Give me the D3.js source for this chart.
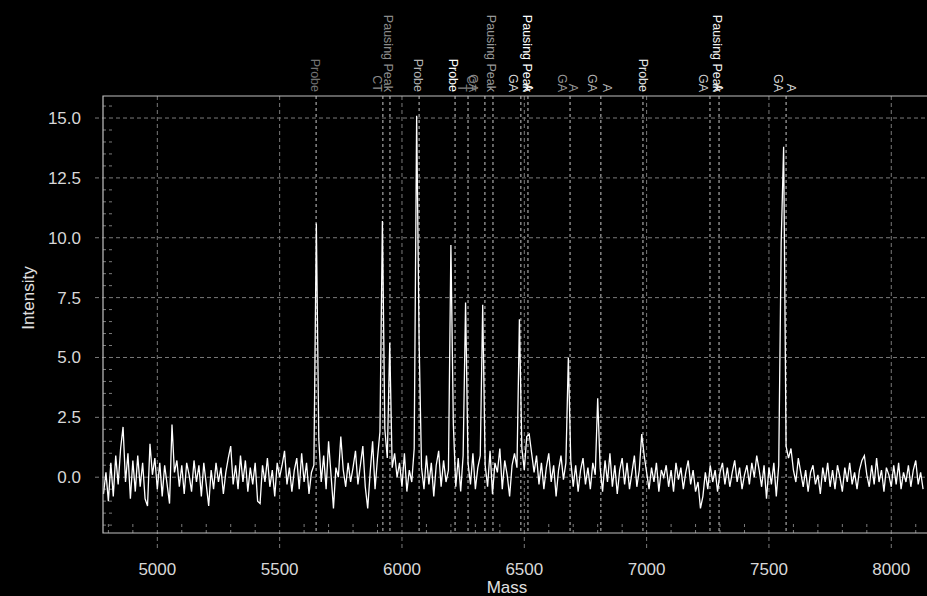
<!DOCTYPE html>
<html>
<head>
<meta charset="utf-8">
<script src="https://cdn.jsdelivr.net/npm/d3@7"></script>
<style>
  html, body { margin: 0; padding: 0; background: #000; }
  svg { display: block; font-family: "Liberation Sans", Arial, sans-serif; }
</style>
</head>
<body>
<svg id="chart" width="927" height="596"></svg>
<script>
// spectrum sampled every 10 Da starting at 4780
var massStart = 4780, massStep = 10;
var intensity = [
  -0.7, 0.2, -1.0, 0.6, -0.8, 0.9, -0.3, 1.2, 2.1, -0.2,
  1.0, -0.9, 0.7, -0.6, 0.9, -0.4, 0.6, -0.9, -1.2, 1.4,
  0.1, 0.8, -0.5, 0.6, -0.8, 0.5, -0.3, -1.1, 2.2, 0.2,
  0.7, -0.4, 0.5, -0.7, 0.6, 0.1, -0.6, 0.7, -0.2, 0.5,
  -0.8, 0.6, -0.3, -1.2, 0.3, -0.5, 0.6, -0.2, 0.4, -0.7,
  0.2, 0.8, 1.3, -0.3, 0.5, -0.5, 0.9, -0.2, 0.7, -0.6,
  0.4, -0.3, 0.6, -1.0, -1.1, 0.5, -0.2, 0.8, -0.4, 0.3,
  -0.8, 0.6, 0.0, 0.5, 1.1, -0.3, 0.4, -0.6, 0.3, 0.8,
  -0.5, 1.0, -0.2, 0.6, -0.7, 0.2, 0.5, 10.6, 1.6, -0.2,
  0.9, -0.5, 1.5, 0.1, -1.3, 0.4, 0.0, 1.7, 0.3, -0.4,
  0.6, -0.2, 0.4, 1.1, -0.3, 0.5, 1.3, -0.4, -1.3, 0.2,
  1.5, -0.5, 0.8, 1.9, 10.7, 2.0, 0.8, 5.6, 0.4, 1.0,
  0.0, 0.6, -0.4, 1.0, -0.6, 0.3, -0.2, 1.2, 15.1, 5.7,
  0.4, -0.5, 0.9, -0.3, 0.6, -0.8, 0.5, 1.1, -0.4, 0.7,
  -0.2, 0.3, 9.7, 2.2, -0.4, 0.8, -0.6, 0.9, 7.3, 0.6,
  -0.3, 1.0, -0.5, 0.4, 0.9, 7.2, 0.5, -0.4, 1.1, -0.7,
  0.6, 0.2, 1.2, -0.5, 0.7, 0.1, -0.8, 0.5, 1.0, 0.4,
  6.6, 1.2, 0.3, 1.7, 1.8, 1.0, 0.2, 0.9, -0.3, 0.6,
  -0.5, 0.4, 1.0, -0.2, 0.5, -0.8, 0.3, 0.9, -0.1, 0.6,
  5.0, 0.7, -0.4, 0.5, -0.6, 0.3, 0.8, -0.3, 0.4, -0.5,
  0.6, 0.1, 3.3, 0.4, -0.6, 0.7, -0.2, 1.0, -0.4, 0.5,
  -0.7, 0.3, 0.8, -0.3, 0.6, -0.5, 0.2, 0.9, -0.4, 0.3,
  1.8, 0.9, 0.2, -0.5, 0.4, -0.2, 0.6, -0.6, 0.3, 0.0,
  0.5, -0.4, 0.3, -0.6, 0.6, -0.1, 0.4, -0.5, 0.2, 0.7,
  -0.3, 0.3, -0.6, -0.2, -1.3, -0.8, 0.2, -0.5, 0.5, -0.2,
  0.3, -0.6, 0.2, 0.6, -0.3, 0.4, -0.4, 0.2, 0.7, -0.2,
  0.4, -0.5, 0.1, 0.5, -0.3, 0.6, 0.0, 0.9, 0.3, -0.4,
  0.5, -0.9, 0.4, -0.3, 0.6, -0.8, 0.5, 9.8, 13.8, 1.3,
  0.8, 1.2, 0.3, -0.2, 0.8, 0.2, -0.4, 0.3, -0.6, 0.2,
  0.5, -0.3, 0.1, -0.7, 0.4, -0.2, 0.6, -0.4, 0.3, -0.5,
  0.5, 0.0, -0.6, 0.4, -0.2, 0.6, -0.3, 0.2, -0.5, 0.3,
  0.7, 0.9, 0.1, -0.4, 0.5, -0.3, 0.8, -0.2, 0.3, -0.6,
  0.4, 0.1, -0.4, 0.5, -0.3, 0.6, -0.5, 0.2, -0.2, 0.5,
  -0.4, 0.3, 0.7, -0.3, 0.2, -0.5
];

var xTicks = [5000, 5500, 6000, 6500, 7000, 7500, 8000];
var yTicks = [0, 2.5, 5, 7.5, 10, 12.5, 15];

// dashed marker lines (expected masses)
var markerMasses = [5649, 5922, 5951, 6070, 6217, 6270, 6339, 6372, 6486, 6515, 6687, 6813, 6985, 7259, 7296, 7570];

// rotated labels above the plot
var labelTexts  = ["Probe", "CT", "Pausing Peak", "Probe", "Probe", "T", "CT", "GA", "Pausing Peak", "GA", "Pausing Peak", "A",
                   "GA", "A", "GA", "A", "Probe", "GA", "Pausing Peak", "A", "GA", "A"];
var labelMasses = [5644, 5898, 5943, 6065, 6208, 6245, 6282, 6290, 6364, 6454, 6511, 6514,
                   6654, 6699, 6777, 6837, 6985, 7230, 7287, 7290, 7537, 7590];
var labelShade  = [0.45, 0.55, 0.55, 0.7, 1, 0.5, 0.5, 0.55, 0.6, 0.85, 1, 1,
                   0.6, 0.6, 0.7, 0.7, 0.9, 0.8, 0.95, 0.95, 0.85, 0.85];

var svg = d3.select("#chart");
var pLeft = 103, pRight = 927, pTop = 96, pBottom = 533;

var x = d3.scaleLinear().domain([4778, 8146]).range([pLeft, pRight]);
var y = d3.scaleLinear().domain([-2.33, 15.92]).range([pBottom, pTop]);

var gridColor = "#7a7a7a";

// horizontal grid
svg.append("g").selectAll("line").data(yTicks).enter().append("line")
  .attr("x1", pLeft - 8).attr("x2", pRight)
  .attr("y1", d => y(d)).attr("y2", d => y(d))
  .attr("stroke", gridColor).attr("stroke-dasharray", "4,3");

// vertical grid
svg.append("g").selectAll("line").data(xTicks).enter().append("line")
  .attr("x1", d => x(d)).attr("x2", d => x(d))
  .attr("y1", pTop).attr("y2", pBottom + 15)
  .attr("stroke", gridColor).attr("stroke-dasharray", "4,3");

// minor ticks
var yMinor = d3.range(-2, 16, 0.5).filter(v => yTicks.indexOf(v) < 0);
svg.append("g").selectAll("line").data(yMinor).enter().append("line")
  .attr("x1", pLeft).attr("x2", pLeft + 9)
  .attr("y1", d => y(d)).attr("y2", d => y(d))
  .attr("stroke", gridColor).attr("stroke-dasharray", "3,3");
var xMinor = d3.range(4800, 8146, 100).filter(v => xTicks.indexOf(v) < 0);
svg.append("g").selectAll("line").data(xMinor).enter().append("line")
  .attr("x1", d => x(d)).attr("x2", d => x(d))
  .attr("y1", pBottom).attr("y2", pBottom - 10)
  .attr("stroke", gridColor).attr("stroke-dasharray", "3,3");

// marker lines
svg.append("g").selectAll("line").data(markerMasses).enter().append("line")
  .attr("x1", d => x(d)).attr("x2", d => x(d))
  .attr("y1", pTop).attr("y2", pBottom)
  .attr("stroke", "#c8c8c8").attr("stroke-dasharray", "3,3");

// spectrum
var pts = intensity.map((v, i) => [massStart + i * massStep, v]);
svg.append("path")
  .datum(pts)
  .attr("fill", "none")
  .attr("stroke", "#fff")
  .attr("stroke-width", 1.3)
  .attr("d", d3.line().x(d => x(d[0])).y(d => y(d[1])));

// frame
svg.append("path")
  .attr("d", "M" + pRight + "," + pTop + "H" + pLeft + "V" + pBottom + "H" + pRight)
  .attr("fill", "none").attr("stroke", "#c0c0c0").attr("stroke-width", 1.2);

// tick labels
svg.append("g").selectAll("text").data(yTicks).enter().append("text")
  .attr("x", 81).attr("y", d => y(d)).attr("dy", "0.35em")
  .attr("text-anchor", "end").attr("fill", "#d8d8d8").attr("font-size", 17)
  .text(d => d3.format(".1f")(d));
svg.append("g").selectAll("text").data(xTicks).enter().append("text")
  .attr("x", d => x(d)).attr("y", 575)
  .attr("text-anchor", "middle").attr("fill", "#d8d8d8").attr("font-size", 17)
  .text(d => d);

// axis titles
svg.append("text").attr("transform", "translate(34,298) rotate(-90)")
  .attr("text-anchor", "middle").attr("fill", "#e0e0e0").attr("font-size", 17)
  .text("Intensity");
svg.append("text").attr("x", 507).attr("y", 593)
  .attr("text-anchor", "middle").attr("fill", "#e0e0e0").attr("font-size", 17)
  .text("Mass");

// peak labels
svg.append("g").selectAll("text").data(labelTexts).enter().append("text")
  .attr("transform", (d, i) => "translate(" + x(labelMasses[i]) + ",92) rotate(90)")
  .attr("text-anchor", "end").attr("dominant-baseline", "central")
  .attr("font-size", 12.5)
  .attr("fill", (d, i) => d3.interpolateRgb("#000", "#fff")(labelShade[i]))
  .text(d => d);
</script>
</body>
</html>
